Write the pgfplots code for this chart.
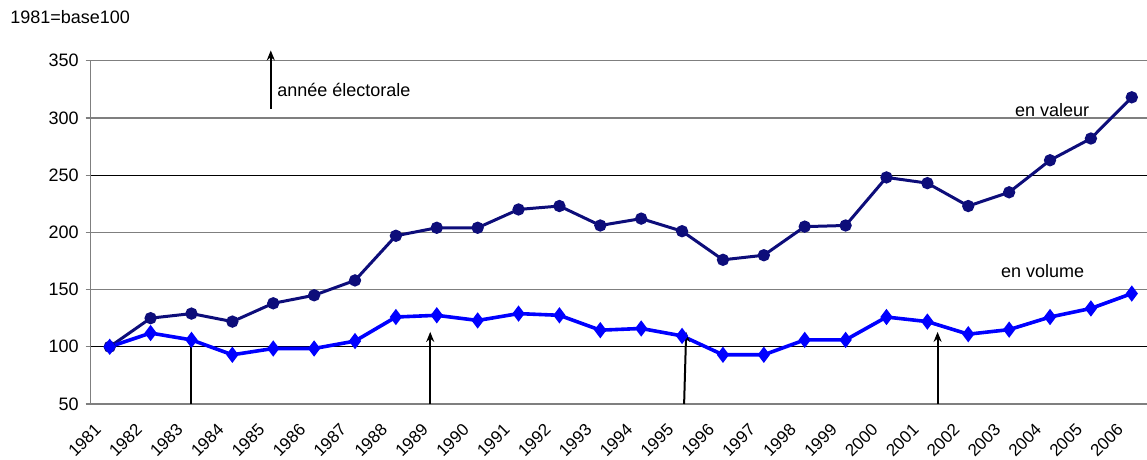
\documentclass[border=0pt]{standalone}
\usepackage{pgfplots}
\pgfplotsset{compat=1.18}
\usepackage{pgfplotstable}
\usepackage{fontspec}
\setmainfont{Liberation Sans}
\usetikzlibrary{arrows.meta}

\definecolor{valeur}{HTML}{0D0D7A}
\definecolor{volume}{HTML}{0000FF}
\definecolor{gridgray}{HTML}{7F7F7F}
\newcommand\f{\fontsize{9pt}{11pt}\selectfont}

% indices, 1981 = 100
\pgfplotstableread{
idx valeur volume
0   100   100
1   125   112
2   129   106
3   122   93
4   138   98.5
5   145   98.5
6   158   105
7   197   126
8   204   127.5
9   204   123
10  220   129
11  223   127.5
12  206   114.5
13  212   116
14  201   109.5
15  176   93
16  180   93
17  205   106
18  206   106
19  248   126
20  243   122
21  223   111
22  235   115
23  263   126
24  282   133.5
25  318   146.5
}\data

\begin{document}
\begin{tikzpicture}
\useasboundingbox (0,0) rectangle (573.5pt,230pt);
\node[anchor=west, font=\f, inner sep=0pt] at (5pt,221.25pt) {1981=base100};
\begin{axis}[
  at={(45.35pt,28pt)}, anchor=south west,
  scale only axis, width=527.9pt, height=171.65pt,
  xmin=-0.465, xmax=25.36, ymin=50, ymax=350,
  axis x line=bottom, axis y line=left,
  axis line style={gridgray, -, line width=0.6pt},
  xtick={0,...,25},
  xticklabels={1981,1982,1983,1984,1985,1986,1987,1988,1989,1990,1991,1992,1993,1994,1995,1996,1997,1998,1999,2000,2001,2002,2003,2004,2005,2006},
  x tick style={draw=none},
  ytick={50,100,...,300},
  extra y ticks={350},
  extra y tick style={grid style={gray!20, line width=0.6pt}},
  ymajorgrids,
  major grid style={gridgray, line width=0.6pt},
  y tick style={gridgray, line width=0.6pt},
  tick align=outside, major tick length=2.5pt,
  ticklabel style={font=\f},
  xticklabel style={font=\fontsize{8.5pt}{10pt}\selectfont, xshift=-8pt, yshift=-6.5pt, rotate=45, anchor=north east, inner sep=0pt},
  /pgf/number format/assume math mode=true,
  clip=false,
]
% darker reference lines
\draw[black, line width=0.6pt] (axis cs:-0.465,100) -- (axis cs:25.36,100);
\draw[black, line width=0.6pt] (axis cs:-0.465,250) -- (axis cs:25.36,250);

\addplot[valeur, line width=1.5pt, mark=*, mark size=2.3pt] table[x=idx, y=valeur] {\data};
\addplot[volume, line width=1.8pt, mark=diamond*, mark size=2.6pt] table[x=idx, y=volume] {\data};

% election years
\tikzset{elec/.style={black, line width=1pt, -{Stealth[length=5pt, width=4pt]}}}
\draw[elec] (axis cs:2,50) -- (axis cs:2,113);
\draw[elec] (axis cs:7.84,50) -- (axis cs:7.84,113);
\draw[elec] (axis cs:14.05,50) -- (axis cs:14.1,113);
\draw[elec] (axis cs:20.25,50) -- (axis cs:20.25,113);

% key
\draw[elec] (axis cs:3.94,308) -- (axis cs:3.94,359);
\node[anchor=west, font=\f, inner sep=0pt] at (axis cs:4.09,324.4) {année électorale};
\node[font=\f, inner sep=0pt] at (axis cs:23.05,307) {en valeur};
\node[font=\f, inner sep=0pt] at (axis cs:22.82,166.5) {en volume};
\end{axis}
\end{tikzpicture}
\end{document}
